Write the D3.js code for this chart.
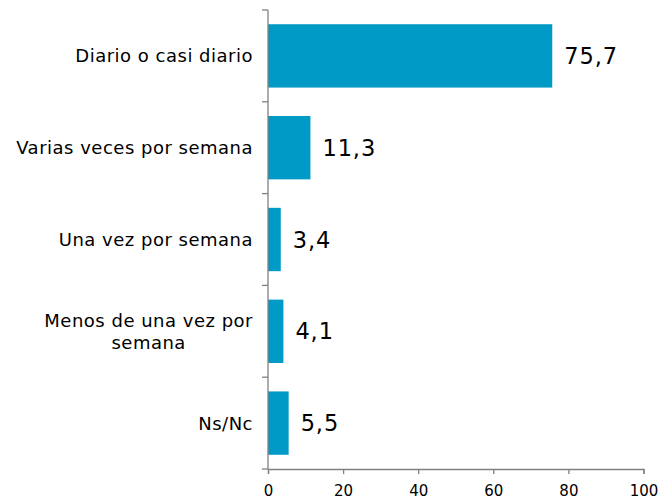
<!DOCTYPE html>
<html>
<head>
<meta charset="utf-8">
<script src="https://d3js.org/d3.v7.min.js"></script>
<style>
  body { margin: 0; background: #fff; }
  text { font-family: "DejaVu Sans", Verdana, sans-serif; fill: #000; }
</style>
</head>
<body>
<div id="chart"></div>
<script>
// datos del gráfico
var categories = ["Diario o casi diario", "Varias veces por semana", "Una vez por semana", "Menos de una vez por semana", "Ns/Nc"];
var labelLines = [["Diario o casi diario"], ["Varias veces por semana"], ["Una vez por semana"], ["Menos de una vez por", "semana"], ["Ns/Nc"]];
var values = [75.7, 11.3, 3.4, 4.1, 5.5];
var xTicks = [0, 20, 40, 60, 80, 100];

var width = 661, height = 499;
var margin = {top: 10, right: 18, bottom: 30, left: 268};
var axisY = 469;

var svg = d3.select("#chart").append("svg")
    .attr("width", width)
    .attr("height", height);

var x = d3.scaleLinear()
    .domain([0, 100])
    .range([margin.left, 643.5]);

var y = d3.scaleBand()
    .domain(categories)
    .range([margin.top, axisY])
    .paddingInner(0.31)
    .paddingOuter(0.155);

// barras
svg.selectAll("rect.bar")
    .data(values)
    .enter()
    .append("rect")
    .attr("class", "bar")
    .attr("x", x(0))
    .attr("y", function (d, i) { return y(categories[i]); })
    .attr("width", function (d) { return x(d) - x(0); })
    .attr("height", y.bandwidth())
    .attr("fill", "#009AC6");

// etiquetas de valor
svg.selectAll("text.val")
    .data(values)
    .enter()
    .append("text")
    .attr("class", "val")
    .attr("x", function (d) { return x(d) + 12; })
    .attr("y", function (d, i) { return y(categories[i]) + y.bandwidth() / 2; })
    .attr("dy", "0.36em")
    .style("font-size", "22.5px")
    .style("letter-spacing", "0.9px")
    .text(function (d) { return d.toFixed(1).replace(".", ","); });

// eje x
var xAxis = svg.append("g")
    .attr("transform", "translate(0," + axisY + ")")
    .call(d3.axisBottom(x).tickValues(xTicks).tickSize(5).tickPadding(11));
xAxis.selectAll("text").style("font-size", "15px");
xAxis.select(".domain").attr("stroke", "#808080").attr("stroke-width", 1.3);
xAxis.selectAll(".tick line").attr("stroke", "#808080").attr("stroke-width", 1.3);

// eje y (marcas entre categorías)
var yTicks = d3.range(categories.length + 1).map(function (i) {
    return margin.top + i * ((axisY - margin.top) / categories.length);
});
var yAxis = svg.append("g");
yAxis.append("line")
    .attr("x1", x(0)).attr("x2", x(0))
    .attr("y1", margin.top).attr("y2", axisY)
    .attr("stroke", "#808080").attr("stroke-width", 1.3);
yAxis.selectAll("line.tick")
    .data(yTicks)
    .enter()
    .append("line")
    .attr("class", "tick")
    .attr("x1", x(0) - 6).attr("x2", x(0))
    .attr("y1", function (d) { return d; }).attr("y2", function (d) { return d; })
    .attr("stroke", "#808080").attr("stroke-width", 1.3);

// etiquetas de categoría
var catLabels = svg.selectAll("text.cat")
    .data(labelLines)
    .enter()
    .append("text")
    .attr("class", "cat")
    .attr("text-anchor", "middle")
    .style("font-size", "18px")
    .style("letter-spacing", "0.5px")
    .attr("transform", function (d, i) {
        var cy = y(categories[i]) + y.bandwidth() / 2;
        return "translate(0," + cy + ")";
    });

catLabels.each(function (lines) {
    var t = d3.select(this);
    var lh = 22;
    var spans = t.selectAll("tspan")
        .data(lines)
        .enter()
        .append("tspan")
        .attr("y", function (d, j) { return (j - (lines.length - 1) / 2) * lh; })
        .attr("dy", "0.36em")
        .text(function (d) { return d; });
    // bloque alineado a la derecha, líneas centradas entre sí
    var w = 0;
    spans.each(function () { w = Math.max(w, this.getComputedTextLength()); });
    spans.attr("x", x(0) - 15 - w / 2);
});
</script>
</body>
</html>
